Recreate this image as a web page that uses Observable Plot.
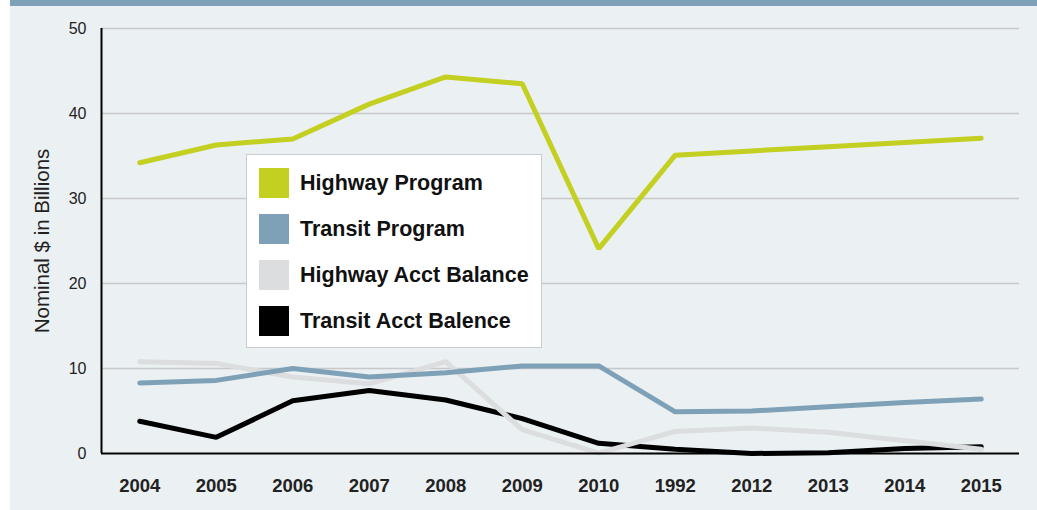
<!DOCTYPE html>
<html>
<head>
<meta charset="utf-8">
<script src="https://cdn.jsdelivr.net/npm/d3@7"></script>
<script src="https://cdn.jsdelivr.net/npm/@observablehq/plot@0.6"></script>
<style>
  html, body { margin: 0; padding: 0; background: #ffffff; }
  #wrap { position: absolute; left: 10px; top: 0; width: 1027px; height: 510px; background: #ebf0f3; overflow: hidden; }
  #bar { position: absolute; left: 0; top: 0; width: 1027px; height: 6px; background: #7fa1b7; }
  #chart { position: absolute; left: 0; top: 6px; }
  #legend { position: absolute; left: 236px; top: 154px; width: 296px; height: 194px; box-sizing: border-box;
            background: #ffffff; border: 1.5px solid #c9cbcc; }
  .row { position: absolute; left: 12px; height: 30px; display: flex; align-items: center; }
  .sw { width: 30px; height: 30px; margin-right: 11px; flex: none; }
  .lab { font-family: "Liberation Sans", Arial, sans-serif; font-weight: bold; font-size: 21.5px; color: #111; line-height: 30px; white-space: nowrap; }
</style>
</head>
<body>
<div id="wrap">
  <div id="bar"></div>
  <div id="chart"></div>
  <div id="legend"></div>
</div>
<script>
// Categories (as printed on the original chart)
const years = ["2004", "2005", "2006", "2007", "2008", "2009", "2010", "1992", "2012", "2013", "2014", "2015"];

// Series values (nominal $ in billions)
const highwayProgram = [34.2, 36.3, 37.0, 41.1, 44.3, 43.5, 24.1, 35.1, 35.6, 36.1, 36.6, 37.1];
const transitProgram = [8.3, 8.6, 10.0, 9.0, 9.5, 10.3, 10.3, 4.9, 5.0, 5.5, 6.0, 6.4];
const highwayAcctBalance = [10.8, 10.6, 9.0, 8.2, 10.8, 2.8, 0.05, 2.6, 3.0, 2.5, 1.5, 0.5];
const transitAcctBalance = [3.8, 1.9, 6.2, 7.4, 6.3, 4.1, 1.2, 0.5, 0.0, 0.1, 0.6, 0.8];

const seriesNames = ["Highway Program", "Transit Program", "Highway Acct Balance", "Transit Acct Balence"];
const seriesColors = ["#c3cf21", "#7fa1b7", "#dcdddf", "#000000"];
const yTicks = [0, 10, 20, 30, 40, 50];
const yLabel = "Nominal $ in Billions";

const seriesValues = [highwayProgram, transitProgram, highwayAcctBalance, transitAcctBalance];
// draw order: back to front
const drawOrder = [3, 2, 1, 0];
const data = drawOrder.flatMap(k => seriesValues[k].map((v, i) => ({series: seriesNames[k], i, value: v})));

const chart = Plot.plot({
  width: 1027,
  height: 504,
  marginLeft: 91,
  marginRight: 18,
  marginTop: 22,
  marginBottom: 57,
  style: {background: "transparent", fontFamily: "'Liberation Sans', Arial, sans-serif", color: "#222"},
  x: {domain: [-0.5, years.length - 0.5]},
  y: {domain: [0, 50]},
  color: {domain: seriesNames, range: seriesColors},
  marks: [
    Plot.ruleY(yTicks.filter(d => d > 0), {stroke: "#c6c8ca", strokeWidth: 1.5}),
    Plot.axisY({ticks: yTicks, tickSize: 0, tickPadding: 15, fontSize: 16, label: null}),
    Plot.axisX({ticks: d3.range(years.length), tickFormat: i => years[i], tickSize: 0, tickPadding: 25,
                fontSize: 18.5, fontWeight: "bold", label: null}),
    Plot.line(data, {x: "i", y: "value", z: "series", stroke: "series", strokeWidth: 5,
                     strokeLinejoin: "miter", strokeLinecap: "round"}),
    Plot.ruleY([0], {stroke: "#000", strokeWidth: 2}),
    Plot.ruleX([-0.5], {stroke: "#000", strokeWidth: 2}),
    Plot.text([yLabel], {frameAnchor: "left", dx: -59, rotate: -90, textAnchor: "middle", lineAnchor: "middle",
                         fontSize: 20.5, fill: "#222"})
  ]
});
document.getElementById("chart").appendChild(chart);

const legend = document.getElementById("legend");
seriesNames.forEach((name, k) => {
  const row = document.createElement("div");
  row.className = "row";
  row.style.top = (13 + 46 * k) + "px";
  const sw = document.createElement("div");
  sw.className = "sw";
  sw.style.background = seriesColors[k];
  const lab = document.createElement("span");
  lab.className = "lab";
  lab.textContent = name;
  row.appendChild(sw);
  row.appendChild(lab);
  legend.appendChild(row);
});
</script>
</body>
</html>
